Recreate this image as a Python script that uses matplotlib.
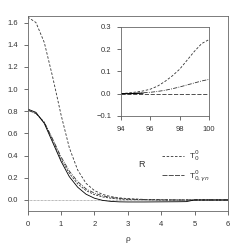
import numpy as np
import matplotlib.pyplot as plt

plt.rcParams['font.family'] = ['Liberation Sans', 'DejaVu Sans']
plt.rcParams['font.size'] = 5.5

# main panel data
rho = [0, 0.25, 0.5, 0.75, 1.0, 1.25, 1.5, 1.75, 2.0, 2.25, 2.5, 2.75,
       3.0, 3.5, 4.0, 4.5, 4.75, 5.0, 5.5, 6.0]
T00_full = [1.65, 1.60, 1.42, 1.11, 0.77, 0.47, 0.27, 0.15, 0.085, 0.05, 0.03, 0.019,
            0.012, 0.005, 0.002, 0.0, 0.0, 0.0, 0.0, 0.0]
T00_gn = [0.81, 0.78, 0.70, 0.55, 0.39, 0.26, 0.165, 0.10, 0.062, 0.037, 0.022, 0.013,
          0.008, 0.003, 0.001, 0.0, 0.0, 0.0, 0.0, 0.0]
T00_b = [0.81, 0.78, 0.70, 0.54, 0.37, 0.24, 0.145, 0.085, 0.048, 0.027, 0.015, 0.008,
         0.004, 0.002, 0.0, 0.0, 0.0, 0.0, 0.0, 0.0]
T00_sol = [0.82, 0.79, 0.69, 0.52, 0.35, 0.21, 0.115, 0.052, 0.016, -0.004, -0.013, -0.017,
           -0.018, -0.018, -0.017, -0.016, -0.015, 0.0, 0.0, 0.0]

# inset data
x_in = [94, 94.5, 95, 95.5, 96, 96.5, 97, 97.5, 98, 98.5, 99, 99.5, 100]
up_in = [0.0, 0.003, 0.007, 0.012, 0.02, 0.034, 0.055, 0.08, 0.11, 0.15, 0.19, 0.225, 0.243]
lo_in = [0.0, 0.001, 0.002, 0.004, 0.006, 0.01, 0.015, 0.022, 0.03, 0.039, 0.048, 0.057, 0.064]
zero_in = [0.0] * len(x_in)

grey = '#333333'
fig = plt.figure(figsize=(2.42, 2.44), dpi=100)
ax = fig.add_axes([0.114, 0.135, 0.828, 0.80])

ax.axhline(0, color='#777777', lw=0.5, ls=(0, (1, 1)))
l1, = ax.plot(rho, T00_full, color=grey, lw=0.6, ls=(0, (3, 2)))
l2, = ax.plot(rho, T00_gn, color=grey, lw=0.6, ls=(0, (5, 1.5, 1, 1.5)))
ax.plot(rho, T00_b, color=grey, lw=0.6, ls=(0, (2.5, 1.5)))
ax.plot(rho, T00_sol, color='black', lw=0.6)
l3, = ax.plot([], [], color=grey, lw=0.6, ls=(0, (6, 1.5)))

ax.set_xlim(0, 6)
ax.set_ylim(-0.1, 1.66)
ax.set_xticks(range(7))
ax.set_yticks(np.arange(0, 1.61, 0.2))
ax.set_yticklabels(['%.1f' % v for v in np.arange(0, 1.61, 0.2)])
ax.tick_params(direction='out', length=3, width=0.5, colors=grey, pad=4)
for s in ax.spines.values():
    s.set_linewidth(0.6)
    s.set_color('#666666')
ax.set_xlabel('ρ', fontsize=6, color=grey, labelpad=6)

leg = ax.legend([l1, l3], ['T$^0_0$', 'T$^0_{0,γn}$'], loc='upper left',
                bbox_to_anchor=(0.635, 0.36), frameon=False, handlelength=2.6,
                fontsize=6, labelspacing=0.6, handletextpad=0.6)
for t in leg.get_texts():
    t.set_color(grey)
ax.text(0.566, 0.24, 'R', transform=ax.transAxes, fontsize=6.5, color=grey,
        ha='center', va='center')

ins = fig.add_axes([0.5, 0.525, 0.364, 0.365])
ins.plot(x_in, zero_in, color=grey, lw=0.6, ls=(0, (5, 2)))
ins.plot(x_in, lo_in, color=grey, lw=0.6, ls=(0, (5, 1.5, 1, 1.5)))
ins.plot(x_in, up_in, color=grey, lw=0.6, ls=(0, (3, 2)))
ins.plot(x_in[:4], [0.0, 0.0, 0.001, 0.002], color='black', lw=0.8)
ins.set_xlim(94, 100)
ins.set_ylim(-0.1, 0.3)
ins.set_xticks([94, 96, 98, 100])
ins.set_yticks([-0.1, 0.0, 0.1, 0.2, 0.3])
ins.tick_params(direction='out', length=3, width=0.5, colors=grey, pad=4)
for s in ins.spines.values():
    s.set_linewidth(0.6)
    s.set_color('#666666')

fig.savefig('out.png', dpi=100)
